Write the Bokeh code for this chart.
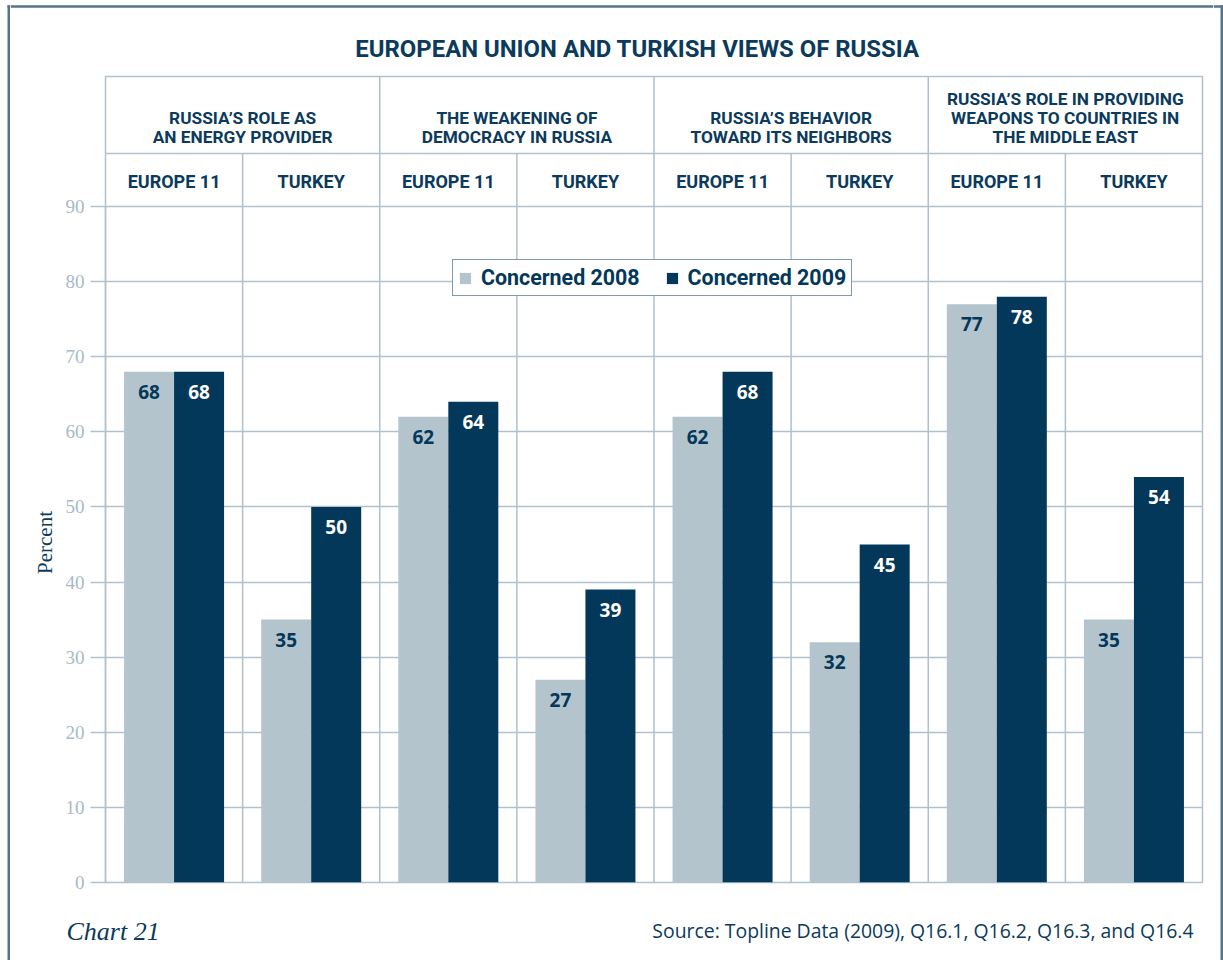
from bokeh.plotting import figure
from bokeh.layouts import row, column
from bokeh.models import Range1d, FixedTicker, Legend, LegendItem, ColumnDataSource
from bokeh.embed import file_html
from bokeh.resources import INLINE
from bokeh.core.properties import value

# ---------------- data ----------------
topics = [
    ["RUSSIA\u2019S ROLE AS", "AN ENERGY PROVIDER"],
    ["THE WEAKENING OF", "DEMOCRACY IN RUSSIA"],
    ["RUSSIA\u2019S BEHAVIOR", "TOWARD ITS NEIGHBORS"],
    ["RUSSIA\u2019S ROLE IN PROVIDING", "WEAPONS TO COUNTRIES IN", "THE MIDDLE EAST"],
]
regions = ["EUROPE 11", "TURKEY"]
concerned_2008 = [68, 35, 62, 27, 62, 32, 77, 35]
concerned_2009 = [68, 50, 64, 39, 68, 45, 78, 54]
series_names = ["Concerned 2008", "Concerned 2009"]
y_ticks = [0, 10, 20, 30, 40, 50, 60, 70, 80, 90]
y_label = "Percent"
title_text = "EUROPEAN UNION AND TURKISH VIEWS OF RUSSIA"
chart_no = "Chart 21"
source_text = "Source: Topline Data (2009), Q16.1, Q16.2, Q16.3, and Q16.4"

# ---------------- style ----------------
DARK = "#03385a"
LIGHT = "#b4c4cd"
GRID = "#b0c1cd"
TICK = "#a7bac7"
TEXT = "#0b3a5c"
FRAME = "#54738d"
FIX = 7  # baseline correction in px

STRIP_W = 10
TOTAL_W, TOTAL_H = 1223, 960
MID_W = TOTAL_W - 2 * STRIP_W
HEAD_H, MAIN_H = 74, 826
FOOT_H = TOTAL_H - HEAD_H - MAIN_H


def no_align(f):
    if "frame_align" in f.properties():
        f.frame_align = False
    return f


def blank(w, h):
    f = figure(width=w, height=h, x_range=Range1d(0, w), y_range=Range1d(h, 0),
               output_backend="svg", toolbar_location=None,
               x_axis_location=None, y_axis_location=None, min_border=0,
               min_border_left=0, min_border_right=0, min_border_top=0, min_border_bottom=0)
    f.grid.visible = False
    f.outline_line_color = None
    return no_align(f)


# ---------------- main chart ----------------
LEFT, RIGHT, TOP, BOTTOM = 95, 11, 2, 18
FW = MID_W - LEFT - RIGHT
FH = MAIN_H - TOP - BOTTOM
PPU = 676.0 / 90.0
Y_TOP = FH / PPU
Y_SUB = 90 + 53 / PPU
NCELL = len(topics) * len(regions)
PPX = FW / NCELL

p = figure(width=MID_W, height=MAIN_H, x_range=Range1d(0, NCELL), y_range=Range1d(0, Y_TOP),
           output_backend="svg", toolbar_location=None, x_axis_location=None,
           min_border_left=LEFT, min_border_right=RIGHT, min_border_top=TOP,
           min_border_bottom=BOTTOM)
no_align(p)
p.outline_line_color = GRID
p.outline_line_width = 1.5
p.xgrid.visible = False
p.ygrid.ticker = FixedTicker(ticks=y_ticks)
p.ygrid.grid_line_color = GRID
p.ygrid.grid_line_width = 1.5

ax = p.yaxis[0]
ax.ticker = FixedTicker(ticks=y_ticks)
ax.bounds = (y_ticks[0], y_ticks[-1])
ax.axis_line_color = GRID
ax.axis_line_width = 1.5
ax.major_tick_line_color = GRID
ax.major_tick_line_width = 1.5
ax.major_tick_out = 15
ax.major_tick_in = 0
ax.minor_tick_line_color = None
ax.major_label_text_font = "Liberation Serif"
ax.major_label_text_font_size = "19px"
ax.major_label_text_color = TICK
ax.major_label_standoff = 6
# trailing no-break spaces centre the rotated label on the 0-90 span
ax.axis_label = y_label + "\u00a0" * 24
ax.axis_label_text_font = "Liberation Serif"
ax.axis_label_text_font_style = "normal"
ax.axis_label_text_font_size = "21px"
ax.axis_label_text_color = TEXT
ax.axis_label_standoff = 6

# table lines
n_reg = len(regions)
grp_x = [float(k * n_reg) for k in range(1, len(topics))]
sub_x = [float(k * n_reg + 1) for k in range(len(topics))]
p.segment(x0=grp_x, y0=[0] * len(grp_x), x1=grp_x, y1=[Y_TOP] * len(grp_x),
          line_color=GRID, line_width=1.5)
p.segment(x0=sub_x, y0=[0] * len(sub_x), x1=sub_x, y1=[Y_SUB] * len(sub_x),
          line_color=GRID, line_width=1.5)
p.segment(x0=[0], y0=[Y_SUB], x1=[NCELL], y1=[Y_SUB], line_color=GRID, line_width=1.5)

# bars
bw = 50.0 / PPX
centers = [i + 0.5 for i in range(NCELL)]
src = ColumnDataSource(dict(
    x08=[c - bw / 2 for c in centers], x09=[c + bw / 2 for c in centers],
    v08=concerned_2008, v09=concerned_2009,
    t08=[str(v) for v in concerned_2008], t09=[str(v) for v in concerned_2009]))
r08 = p.vbar(x="x08", top="v08", bottom=0, width=bw, source=src, fill_color=LIGHT, line_color=None)
r09 = p.vbar(x="x09", top="v09", bottom=0, width=bw, source=src, fill_color=DARK, line_color=None)
p.text(x="x08", y="v08", text="t08", source=src, text_align="center", text_baseline="alphabetic",
       y_offset=27 - FIX, text_font=value("Open Sans"), text_font_style="bold",
       text_font_size="19px", text_color=DARK)
p.text(x="x09", y="v09", text="t09", source=src, text_align="center", text_baseline="alphabetic",
       y_offset=27 - FIX, text_font=value("Open Sans"), text_font_style="bold",
       text_font_size="19px", text_color="white")

# headers
hx, hy, ht, hoff = [], [], [], []
for i, lines in enumerate(topics):
    for k, line in enumerate(reversed(lines)):
        hx.append(i * n_reg + n_reg / 2)
        hy.append(Y_SUB)
        hoff.append(-(10 + 19 * k) - FIX)
        ht.append(line)
p.text(x=hx, y=hy, text=ht, y_offset=hoff, text_align="center", text_baseline="alphabetic",
       text_font=value("Roboto"), text_font_style="bold", text_font_size="17.3px",
       text_color=TEXT)
p.text(x=centers, y=[90] * NCELL, text=[regions[i % n_reg] for i in range(NCELL)],
       y_offset=-18 - FIX, text_align="center", text_baseline="alphabetic",
       text_font=value("Roboto"), text_font_style="bold", text_font_size="18px",
       text_color=TEXT)

# legend
legend = Legend(items=[LegendItem(label=series_names[0], renderers=[r08]),
                       LegendItem(label=series_names[1], renderers=[r09])],
                orientation="horizontal", location=(347, 586))
legend.border_line_color = DARK
legend.border_line_width = 1.5
legend.background_fill_color = "white"
legend.background_fill_alpha = 1.0
legend.padding = 5
legend.spacing = 25
legend.label_standoff = 9
legend.glyph_width = 14
legend.glyph_height = 14
legend.label_height = 16
legend.label_text_font = "Roboto"
legend.label_text_font_style = "bold"
legend.label_text_font_size = "21.4px"
legend.label_text_color = DARK
legend.margin = 0
p.add_layout(legend)

# ---------------- header (title) ----------------
head = blank(MID_W, HEAD_H)
head.segment(x0=[0], y0=[6], x1=[MID_W], y1=[6], line_color=FRAME, line_width=2.5)
head.text(x=[637 - STRIP_W], y=[56 - 8], text=[title_text], text_align="center",
          text_baseline="alphabetic", text_font=value("Roboto"), text_font_style="bold",
          text_font_size="23.9px", text_color=TEXT)

# ---------------- footer ----------------
foot = blank(MID_W, FOOT_H)
foot.text(x=[66 - STRIP_W], y=[940 - HEAD_H - MAIN_H - 9], text=[chart_no], text_align="left",
          text_baseline="alphabetic", text_font=value("Liberation Serif"),
          text_font_style="italic", text_font_size="26px", text_color=TEXT)
foot.text(x=[1193 - STRIP_W], y=[937 - HEAD_H - MAIN_H - 7], text=[source_text],
          text_align="right", text_baseline="alphabetic", text_font=value("Open Sans"),
          text_font_size="19.4px", text_color=TEXT)

# ---------------- side strips (outer frame) ----------------
lstrip = blank(STRIP_W, TOTAL_H)
lstrip.segment(x0=[8.25], y0=[4.75], x1=[8.25], y1=[TOTAL_H], line_color=FRAME, line_width=2.5)
lstrip.segment(x0=[7], y0=[6], x1=[STRIP_W], y1=[6], line_color=FRAME, line_width=2.5)
rstrip = blank(STRIP_W, TOTAL_H)
rstrip.segment(x0=[8.25], y0=[4.75], x1=[8.25], y1=[TOTAL_H], line_color=FRAME, line_width=2.5)
rstrip.segment(x0=[0], y0=[6], x1=[9.5], y1=[6], line_color=FRAME, line_width=2.5)

layout = row(lstrip, column(head, p, foot, spacing=0), rstrip, spacing=0)

open("out.html", "w").write(file_html(layout, INLINE))
